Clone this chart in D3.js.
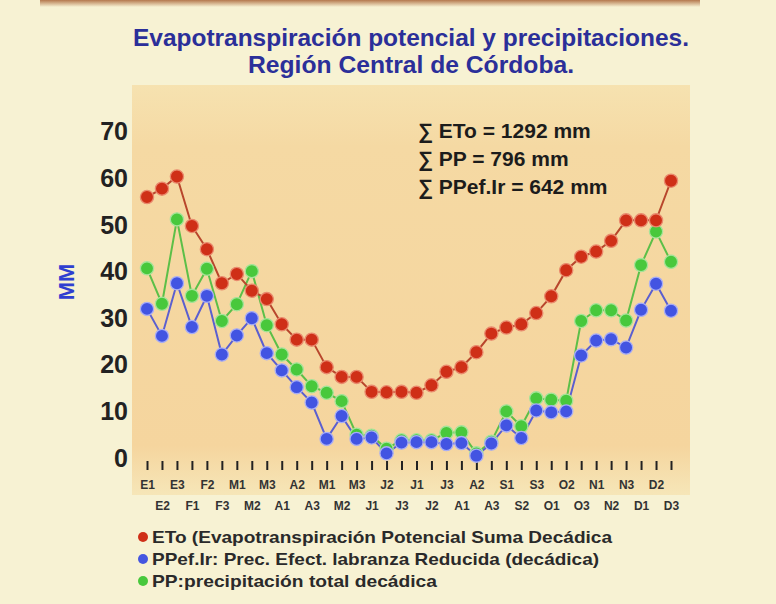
<!DOCTYPE html>
<html><head><meta charset="utf-8">
<script src="https://cdn.jsdelivr.net/npm/d3@7"></script>
<style>
html,body{margin:0;padding:0;background:#f7f2d3;}
svg{display:block;font-family:"Liberation Sans",Arial,sans-serif;}
</style></head>
<body><svg id="c" width="776" height="604"></svg>
<script>
const categories = ["E1","E2","E3","F1","F2","F3","M1","M2","M3","A1","A2","A3",
  "M1","M2","M3","J1","J2","J3","J1","J2","J3","A1","A2","A3",
  "S1","S2","S3","O1","O2","O3","N1","N2","N3","D1","D2","D3"];
const eto = [56.0,57.8,60.4,49.8,44.8,37.5,39.5,35.9,34.1,28.7,25.4,25.4,
  19.5,17.4,17.4,14.2,14.1,14.2,14.0,15.6,18.5,19.5,22.7,26.7,
  28.0,28.7,31.1,34.7,40.3,43.2,44.3,46.6,51.0,51.0,51.0,59.5];
const ppef = [32.0,26.2,37.5,28.1,34.8,22.2,26.3,30.0,22.5,18.8,15.2,11.9,
  4.1,9.0,4.1,4.4,1.0,3.3,3.4,3.4,3.0,3.2,0.5,3.1,
  7.0,4.3,10.2,9.8,10.0,22.0,25.2,25.5,23.7,31.8,37.4,31.6];
const pp = [40.7,33.1,51.2,34.8,40.6,29.4,33.0,40.1,28.5,22.2,19.0,15.4,
  14.0,12.2,5.0,4.8,2.0,3.8,3.8,3.8,5.4,5.5,1.0,3.5,
  10.0,6.8,12.8,12.5,12.3,29.4,31.7,31.7,29.5,41.4,48.6,42.1];
const yTicks = [0,10,20,30,40,50,60,70];
const titleLines = ["Evapotranspiración potencial y precipitaciones.","Región Central de Córdoba."];
const sumLines = ["∑ ETo = 1292 mm","∑ PP = 796 mm","∑ PPef.Ir = 642 mm"];
const legendItems = [
  {name:"ETo (Evapotranspiración Potencial Suma Decádica", color:"#cf2f17", w:460},
  {name:"PPef.Ir: Prec. Efect. labranza Reducida (decádica)", color:"#4556e0", w:447},
  {name:"PP:precipitación total decádica", color:"#48c83c", w:285}
];

const svg = d3.select("#c");
const defs = svg.append("defs");
const g1 = defs.append("linearGradient").attr("id","plotbg").attr("x1",0).attr("x2",0).attr("y1",0).attr("y2",1);
g1.append("stop").attr("offset","0%").attr("stop-color","#f6e2b0");
g1.append("stop").attr("offset","15%").attr("stop-color","#f5d9a3");
g1.append("stop").attr("offset","88%").attr("stop-color","#f5d59e");
g1.append("stop").attr("offset","100%").attr("stop-color","#f6e6b8");
const g2 = defs.append("linearGradient").attr("id","topband").attr("x1",0).attr("x2",0).attr("y1",0).attr("y2",1);
g2.append("stop").attr("offset","0%").attr("stop-color","#b5794e");
g2.append("stop").attr("offset","100%").attr("stop-color","#f7f2d3");

svg.append("rect").attr("x",40).attr("y",0).attr("width",660).attr("height",7).attr("fill","url(#topband)");
svg.append("rect").attr("x",132).attr("y",85).attr("width",558).attr("height",410).attr("fill","url(#plotbg)");

const x = d3.scalePoint().domain(d3.range(categories.length)).range([147,671]);
const y = d3.scaleLinear().domain([0,70]).range([458,131.8]);

// title
svg.append("g").selectAll("text").data(titleLines).join("text")
  .attr("x",411).attr("y",(d,i)=>46+i*27).attr("text-anchor","middle")
  .attr("font-size",24).attr("font-weight","bold").attr("fill","#2b2f99")
  .attr("textLength",(d,i)=> i===0 ? 556 : 326).attr("lengthAdjust","spacingAndGlyphs")
  .text(d=>d);

// y axis
const ya = svg.append("g").attr("transform","translate(128,0)")
  .call(d3.axisLeft(y).tickValues(yTicks).tickSize(0).tickPadding(0).tickFormat(d3.format("d")));
ya.select(".domain").remove();
ya.selectAll("text").attr("font-size",25).attr("font-weight","bold").attr("fill","#222")
  .attr("font-family","Liberation Sans, Arial, sans-serif");

svg.append("text").attr("transform","translate(74,282) rotate(-90)").attr("text-anchor","middle")
  .attr("font-size",22).attr("font-weight","bold").attr("fill","#2f3fd0").text("MM");

// x axis
const xa = svg.append("g").attr("transform","translate(0,461)")
  .call(d3.axisBottom(x).tickSize(9).tickPadding(0).tickFormat(i=>categories[i]));
xa.select(".domain").remove();
xa.selectAll(".tick line").attr("stroke","#222").attr("stroke-width",2);
xa.selectAll(".tick text").attr("font-size",12).attr("font-weight","bold").attr("fill","#333")
  .attr("font-family","Liberation Sans, Arial, sans-serif")
  .attr("dy",null).attr("y",(d,i)=> i%2===0 ? 28 : 49);

// series
const series = [
  {vals:pp, fill:"#48c83c", line:"#5cbf48", halo:"#a6e39a"},
  {vals:ppef, fill:"#4254e2", line:"#5b5fcf", halo:"#a9aef5"},
  {vals:eto, fill:"#cf2f17", line:"#b8462c", halo:"#e98a6e"}
];
const lineGen = d3.line().x((d,i)=>x(i)).y(d=>y(d));
series.forEach(s=>{
  svg.append("path").attr("d",lineGen(s.vals)).attr("fill","none").attr("stroke",s.line).attr("stroke-width",2);
});
series.forEach(s=>{
  svg.append("g").selectAll("circle").data(s.vals).join("circle")
    .attr("cx",(d,i)=>x(i)).attr("cy",d=>y(d)).attr("r",6.6)
    .attr("fill",s.fill).attr("stroke",s.halo).attr("stroke-width",1.3);
});

// sums
svg.append("g").selectAll("text").data(sumLines).join("text")
  .attr("x",418).attr("y",(d,i)=>138+i*28).attr("font-size",21).attr("font-weight","bold")
  .attr("fill","#1c1c1c").text(d=>d);

// legend
const lg = svg.append("g").selectAll("g").data(legendItems).join("g")
  .attr("transform",(d,i)=>`translate(143,${537+i*22})`);
lg.append("circle").attr("r",5).attr("fill",d=>d.color);
lg.append("text").attr("x",9).attr("y",6).attr("font-size",17).attr("font-weight","bold")
  .attr("fill","#2a2a2a").attr("textLength",d=>d.w).attr("lengthAdjust","spacingAndGlyphs").text(d=>d.name);
</script></body></html>
